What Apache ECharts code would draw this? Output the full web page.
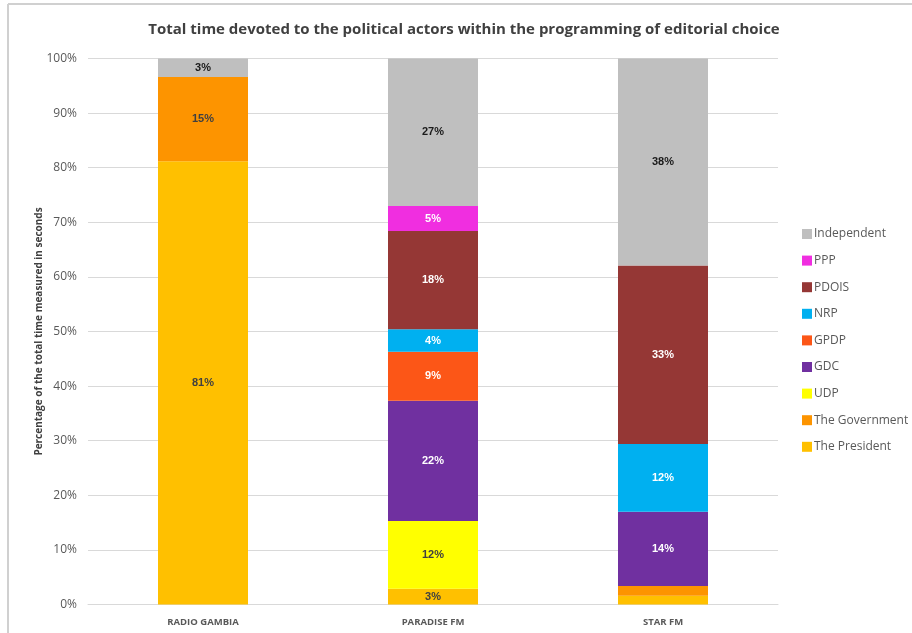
<!DOCTYPE html>
<html>
<head>
<meta charset="utf-8">
<script src="https://cdn.jsdelivr.net/npm/echarts@6/dist/echarts.min.js"></script>
<style>html,body{margin:0;padding:0;background:#fff}#c{width:912px;height:633px}</style>
</head>
<body>
<div id="c"></div>
<script>
const categories = ['RADIO GAMBIA', 'PARADISE FM', 'STAR FM'];
const seriesNames = ['The President', 'The Government', 'UDP', 'GDC', 'GPDP', 'NRP', 'PDOIS', 'PPP', 'Independent'];
const president  = [81.2, 2.9, 1.6];
const government = [15.4, 0, 1.8];
const udp        = [0, 12.4, 0];
const gdc        = [0, 22.0, 13.6];
const gpdp       = [0, 9.0, 0];
const nrp        = [0, 4.1, 12.4];
const pdois      = [0, 18.0, 32.7];
const ppp        = [0, 4.6, 0];
const independent = [3.4, 27.0, 37.9];
const yTicks = [0, 10, 20, 30, 40, 50, 60, 70, 80, 90, 100];

const values = [president, government, udp, gdc, gpdp, nrp, pdois, ppp, independent];
const colors = ['#ffc000', '#fd9400', '#ffff00', '#7030a0', '#fc5617', '#00b0f0', '#953735', '#f02ee0', '#bfbfbf'];
const labelColors = ['#404040', '#404040', '#404040', '#ffffff', '#ffffff', '#ffffff', '#ffffff', '#ffffff', '#1a1a1a'];

const chart = echarts.init(document.getElementById('c'));
chart.setOption({
  animation: false,
  graphic: [
    {type: 'line', shape: {x1: 8, y1: 4, x2: 912, y2: 4}, style: {stroke: '#d0d0d0', lineWidth: 2}, silent: true},
    {type: 'line', shape: {x1: 8, y1: 4, x2: 8, y2: 633}, style: {stroke: '#d0d0d0', lineWidth: 2}, silent: true}
  ],
  title: {
    text: 'Total time devoted to the political actors within the programming of editorial choice',
    left: 459, top: 17, textAlign: 'center',
    textStyle: {fontFamily: 'Open Sans', fontSize: 15, fontWeight: 'bold', color: '#404040'}
  },
  legend: {
    orient: 'vertical', left: 797, top: 223, itemGap: 14.6, itemWidth: 10, itemHeight: 10,
    icon: 'rect',
    data: seriesNames.slice().reverse(),
    textStyle: {fontFamily: 'Open Sans', fontSize: 12, color: '#595959', padding: [0, 0, 0, -3]}
  },
  grid: {left: 88, right: 134, top: 58.5, bottom: 28.5, containLabel: false},
  xAxis: {
    type: 'category', data: categories,
    axisLine: {lineStyle: {color: '#d9d9d9', width: 1}},
    axisTick: {show: false},
    axisLabel: {fontFamily: 'Open Sans', fontSize: 9.5, fontWeight: 'bold', color: '#595959', margin: 13}
  },
  yAxis: {
    type: 'value', min: 0, max: 100, interval: 10,
    name: 'Percentage of the total time measured in seconds',
    nameLocation: 'middle', nameRotate: 90, nameGap: 44, nameMoveOverlap: false,
    nameTextStyle: {fontFamily: 'Open Sans', fontSize: 10, fontWeight: 'bold', color: '#404040'},
    axisLine: {show: false}, axisTick: {show: false},
    splitLine: {lineStyle: {color: '#d9d9d9', width: 1}},
    axisLabel: {fontFamily: 'Open Sans', fontSize: 12, color: '#595959', margin: 11,
      formatter: v => yTicks.includes(v) ? v + '%' : ''}
  },
  series: seriesNames.map((n, i) => ({
    name: n, type: 'bar', stack: 'total', barWidth: 90,
    data: values[i],
    itemStyle: {color: colors[i]},
    label: {
      show: true, position: 'inside',
      fontFamily: 'Liberation Sans', fontSize: 11, fontWeight: 'bold', color: labelColors[i],
      formatter: p => p.value >= 2.5 ? Math.round(p.value) + '%' : ''
    }
  }))
});
</script>
</body>
</html>
